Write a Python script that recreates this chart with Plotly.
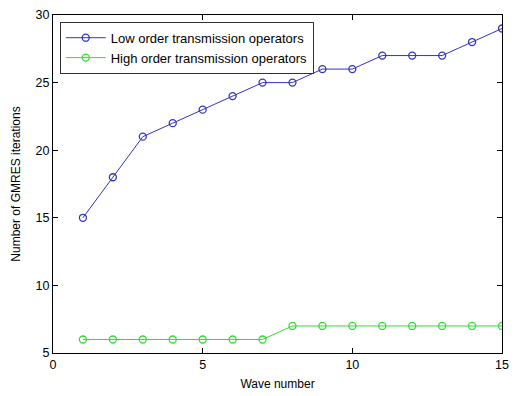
import plotly.graph_objects as go

wave = list(range(1, 16))
low_order = [15, 18, 21, 22, 23, 24, 25, 25, 26, 26, 27, 27, 27, 28, 29]
high_order = [6, 6, 6, 6, 6, 6, 6, 7, 7, 7, 7, 7, 7, 7, 7]

x_ticks = [0, 5, 10, 15]
y_ticks = [5, 10, 15, 20, 25, 30]

blue = "#3333c0"
green = "#33dd33"
FONT = "Liberation Sans, Arial, sans-serif"

fig = go.Figure()
fig.add_trace(go.Scatter(
    x=wave, y=low_order, mode="lines+markers",
    name="Low order transmission operators",
    line=dict(color=blue, width=1),
    marker=dict(symbol="circle-open", size=7, color=blue, line=dict(width=1.3, color=blue)),
))
fig.add_trace(go.Scatter(
    x=wave, y=high_order, mode="lines+markers",
    name="High order transmission operators",
    line=dict(color=green, width=1),
    marker=dict(symbol="circle-open", size=7, color=green, line=dict(width=1.3, color=green)),
))

axis_common = dict(
    showgrid=False, zeroline=False, showline=True, linecolor="black", linewidth=1,
    mirror="ticks", ticks="inside", ticklen=5, tickcolor="black", tickwidth=1,
    tickfont=dict(family=FONT, size=12.5, color="black"),
)

fig.update_layout(
    width=517, height=396,
    margin=dict(l=53, r=8, t=13, b=43),
    paper_bgcolor="white", plot_bgcolor="white",
    font=dict(family=FONT, size=12, color="black"),
    xaxis=dict(range=[0, 15], tickvals=x_ticks,
               title=dict(text="Wave number", font=dict(size=12), standoff=8),
               **axis_common),
    yaxis=dict(range=[5, 30], tickvals=y_ticks, ticklabeloverflow="allow",
               title=dict(text="Number of GMRES iterations", font=dict(size=12), standoff=12),
               **axis_common),
    legend=dict(x=0.015, y=0.98, xanchor="left", yanchor="top",
                bgcolor="white", bordercolor="#333333", borderwidth=1,
                font=dict(size=13), tracegroupgap=0, itemwidth=40),
    showlegend=True,
)

reset_page = (
    "document.documentElement.style.margin='0';"
    "document.documentElement.style.overflow='hidden';"
    "document.body.style.margin='0';"
    "document.body.style.overflow='hidden';"
)

fig.write_html("out.html", config={"displayModeBar": False}, post_script=reset_page)
